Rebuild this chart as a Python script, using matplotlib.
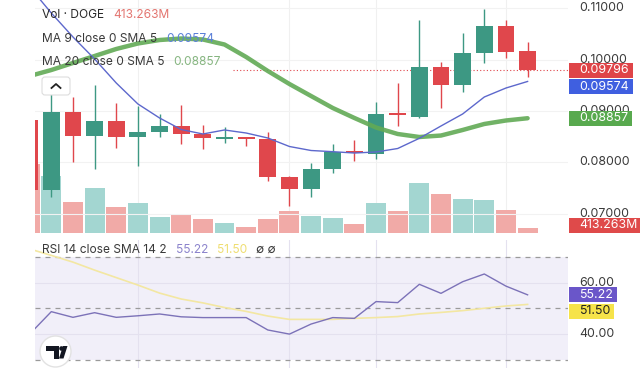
import matplotlib
matplotlib.use("Agg")
import matplotlib.pyplot as plt
from matplotlib.patches import Rectangle, FancyBboxPatch, Circle, Polygon
from matplotlib.transforms import Affine2D
from matplotlib.lines import Line2D

plt.rcParams['font.family'] = ['Inter', 'DejaVu Sans']

# ---------------- data ----------------
opens = [0.08823, 0.07458, 0.08973, 0.08511, 0.08809, 0.08497, 0.08589, 0.08706,
         0.08550, 0.08460, 0.08466, 0.08446, 0.07706, 0.07472, 0.07873, 0.08200,
         0.08154, 0.08930, 0.08887, 0.09862, 0.09505, 0.10135, 0.10661, 0.10168]
highs = [0.09050, 0.09349, 0.09271, 0.09505, 0.09148, 0.09096, 0.08940, 0.09115,
         0.08725, 0.08680, 0.08497, 0.08583, 0.07731, 0.07979, 0.08349, 0.08433,
         0.09179, 0.09538, 0.10772, 0.09959, 0.10513, 0.10981, 0.10772, 0.10349]
lows = [0.07350, 0.07322, 0.07998, 0.07862, 0.08271, 0.07926, 0.08485, 0.08349,
        0.08251, 0.08368, 0.08316, 0.07639, 0.07146, 0.07316, 0.07795, 0.08023,
        0.08057, 0.08706, 0.08860, 0.09051, 0.09374, 0.09928, 0.10025, 0.09667]
closes = [0.07458, 0.08973, 0.08511, 0.08809, 0.08485, 0.08589, 0.08706, 0.08550,
          0.08466, 0.08466, 0.08460, 0.07706, 0.07472, 0.07873, 0.08205, 0.08185,
          0.08940, 0.08915, 0.09862, 0.09505, 0.10135, 0.10661, 0.10154, 0.09796]
volumes_m = [5300, 4340, 2350, 3470, 1970, 2270, 1220, 1480, 1050, 765, 460, 1050,
             1680, 1300, 1180, 665, 2295, 1710, 3860, 3010, 2630, 2560, 1790, 413.263]
ma9 = [0.11415, 0.10908, 0.10441, 0.10012, 0.09544, 0.09135, 0.08862, 0.08637,
       0.08550, 0.08628, 0.08569, 0.08472, 0.08306, 0.08228, 0.08205, 0.08179,
       0.08199, 0.08267, 0.08466, 0.08706, 0.08940, 0.09271, 0.09446, 0.09574]
ma20 = [0.09680, 0.09797, 0.09934, 0.10070, 0.10207, 0.10314, 0.10382, 0.10411,
        0.10392, 0.10294, 0.10051, 0.09778, 0.09524, 0.09290, 0.09057, 0.08862,
        0.08676, 0.08550, 0.08491, 0.08520, 0.08628, 0.08745, 0.08813, 0.08857]
rsi = [40.0, 48.7, 46.5, 48.3, 46.5, 47.1, 47.8, 46.7, 46.4, 46.4, 46.4, 41.6,
       40.0, 43.9, 46.4, 46.1, 52.6, 52.2, 59.3, 55.8, 60.3, 63.3, 58.6, 55.22]
rsi_sma = [73.0, 70.5, 67.9, 64.8, 61.9, 59.0, 55.9, 53.6, 52.1, 50.3, 48.8, 47.0,
           45.7, 45.7, 45.7, 46.1, 46.4, 46.8, 47.8, 48.4, 49.1, 50.0, 50.9, 51.50]
price_ticks = [0.11, 0.10, 0.09, 0.08, 0.07]
rsi_ticks = [60, 40]
rsi_bands = [70, 50, 30]
grid_idx = [5, 12, 16, 22]

# ---------------- style ----------------
UP, DOWN = '#3d9883', '#e0474c'
VUP, VDOWN = '#a3d6d1', '#f1aaa7'
C_MA9, C_MA20 = '#5d68cc', '#62aa55'
C_RSI, C_RSIS = '#7c72b8', '#f3e7a2'
TXT = '#3a3a3a'

W, H = 640, 368
fig = plt.figure(figsize=(6.4, 3.68), dpi=100, facecolor='white')
pix = Affine2D().scale(1 / W, -1 / H).translate(0, 1) + fig.transFigure


def fr(x0, y0, x1, y1):
    return [x0 / W, 1 - y1 / H, (x1 - x0) / W, (y1 - y0) / H]


n = len(closes)
idx = list(range(n))
XL = ((35 - 29.65) / 21.65, (568 - 29.65) / 21.65)

ax = fig.add_axes(fr(35, 0, 568, 233))
vax = ax.twinx()
rax = fig.add_axes(fr(35, 240, 568, 368))
ax.set_zorder(vax.get_zorder() + 1)
ax.patch.set_visible(False)
for a in (ax, vax, rax):
    a.set_xlim(*XL)
    for s in a.spines.values():
        s.set_visible(False)
    a.set_xticks([])
    a.set_yticks([])

ax.set_ylim(0.11 - (233 - 8.3) / 5130, 0.11 + 8.3 / 5130)
vax.set_ylim(0, 233 * 76.5)
rax.set_ylim(50 - (368 - 308.3) / 2.58, 50 + (308.3 - 240) / 2.58)

# grid
for p in price_ticks:
    ax.axhline(p, color='#f2f2f2', lw=0.8, zorder=0)
for g in grid_idx:
    vax.axvline(g, color='#f0f0f0', lw=0.8, zorder=0)
    rax.axvline(g, color='#e4e1ef', lw=0.8, zorder=1)

# volume
vcols = [VUP if c >= o else VDOWN for o, c in zip(opens, closes)]
vax.bar(idx, volumes_m, width=0.92, color=vcols, zorder=2)

# candles
ccols = [UP if c >= o else DOWN for o, c in zip(opens, closes)]
ax.vlines(idx, lows, highs, colors=ccols, lw=1.0, zorder=3)
bottoms = [min(o, c) for o, c in zip(opens, closes)]
heights = [max(abs(c - o), 0.00035) for o, c in zip(opens, closes)]
ax.bar(idx, heights, bottom=bottoms, width=0.78, color=ccols, zorder=4)

# moving averages
ax.plot(idx, ma20, color=C_MA20, lw=3.2, alpha=0.9, solid_capstyle='round', zorder=5)
ax.plot(idx, ma9, color=C_MA9, lw=1.0, zorder=6)
ax.axhline(closes[-1], xmin=(233 - 35) / 533, color=DOWN, lw=0.8,
           linestyle=(0, (1, 2)), zorder=2)

# RSI pane
rax.axhspan(rsi_bands[-1], rsi_bands[0], color='#f1eff9', zorder=0, lw=0)
for t in rsi_ticks:
    rax.axhline(t, color='#e4e1ef', lw=0.8, zorder=1)
for b in rsi_bands:
    rax.axhline(b, color='#9a9a9a', lw=0.9, linestyle=(0, (4, 4)), zorder=2)
rax.plot(idx, rsi_sma, color=C_RSIS, lw=1.2, zorder=3)
rax.plot(idx, rsi, color=C_RSI, lw=1.0, zorder=4)

FS_AX = 8.9
FS_LG = 8.6
renderer = fig.canvas.get_renderer()


def ypix(a, v):
    return H - a.transData.transform((0, v))[1]


# right axis labels
for p in price_ticks:
    fig.text(579 / W, 1 - ypix(ax, p) / H, f"{p:.5f}", fontsize=FS_AX, color=TXT,
             ha='left', va='center', zorder=5)
for t in rsi_ticks:
    fig.text(579 / W, 1 - ypix(rax, t) / H, f"{t:.2f}", fontsize=FS_AX, color=TXT,
             ha='left', va='center', zorder=5)


def tag(label, yc, bg, fg):
    t = fig.text(579 / W, 1 - yc / H, label, fontsize=FS_AX, color=fg, ha='left',
                 va='center', zorder=8)
    bb = t.get_window_extent(renderer)
    right = bb.x1 + 4
    fig.add_artist(Rectangle((569, yc - 7.5), right - 569, 15, transform=pix,
                             facecolor=bg, edgecolor='none', zorder=7))


TH = 16.5
y_close = ypix(ax, closes[-1])
tag(f"{closes[-1]:.5f}", y_close, '#df4448', 'white')
tag(f"{ma9[-1]:.5f}", y_close + TH, '#3f5fe0', 'white')
tag(f"{ma20[-1]:.5f}", ypix(ax, ma20[-1]), '#58a94e', 'white')
tag(f"{volumes_m[-1]:.3f}M", min(ypix(vax, volumes_m[-1]) - 2, 225), '#df4a4a', 'white')
y_rsi = ypix(rax, rsi[-1])
tag(f"{rsi[-1]:.2f}", y_rsi, '#6a56c9', 'white')
tag(f"{rsi_sma[-1]:.2f}", y_rsi + TH, '#f6e34a', '#222222')


# legends
def row(y, parts):
    x = 42
    for s, c in parts:
        t = fig.text(x / W, 1 - y / H, s, fontsize=FS_LG, color=c, ha='left',
                     va='center', zorder=9)
        bb = t.get_window_extent(renderer)
        x = bb.x1 + 9


row(15, [("Vol · DOGE", '#2a2a2a'), (f"{volumes_m[-1]:.3f}M", '#e37570')])
row(38.5, [("MA 9 close 0 SMA 5", TXT), (f"{ma9[-1]:.5f}", '#5b80d8')])
row(62, [("MA 20 close 0 SMA 5", TXT), (f"{ma20[-1]:.5f}", '#86b580')])
row(250, [("RSI 14 close SMA 14 2", TXT), (f"{rsi[-1]:.2f}", '#8c84cc'),
          (f"{rsi_sma[-1]:.2f}", '#efde72'), ("∅ ∅", TXT)])

# collapse button
fig.add_artist(FancyBboxPatch((42, 77), 28, 18, boxstyle='round,pad=0,rounding_size=3',
                              transform=pix, facecolor='white', edgecolor='#dddddd',
                              lw=0.8, zorder=9))
fig.add_artist(Line2D([51.5, 56, 60.5], [88, 84, 88], transform=pix, color='#222222',
                      lw=1.3, zorder=10))

# logo
fig.add_artist(Circle((55.5, 351.5), 15.5, transform=pix, facecolor='white',
                      edgecolor='#e2e2e2', lw=1.0, zorder=9))
fig.add_artist(Rectangle((46, 346), 12.5, 4.5, transform=pix, facecolor='#131722',
                         edgecolor='none', zorder=10))
fig.add_artist(Rectangle((53.5, 346), 5, 12.5, transform=pix, facecolor='#131722',
                         edgecolor='none', zorder=10))
fig.add_artist(Circle((61.5, 348.5), 2.3, transform=pix, facecolor='#131722',
                      edgecolor='none', zorder=10))
fig.add_artist(Polygon([(59, 358.5), (63.5, 358.5), (67.5, 346), (63, 346)],
                       transform=pix, facecolor='#131722', edgecolor='none', zorder=10))

fig.savefig('out.png', dpi=100, facecolor='white')
